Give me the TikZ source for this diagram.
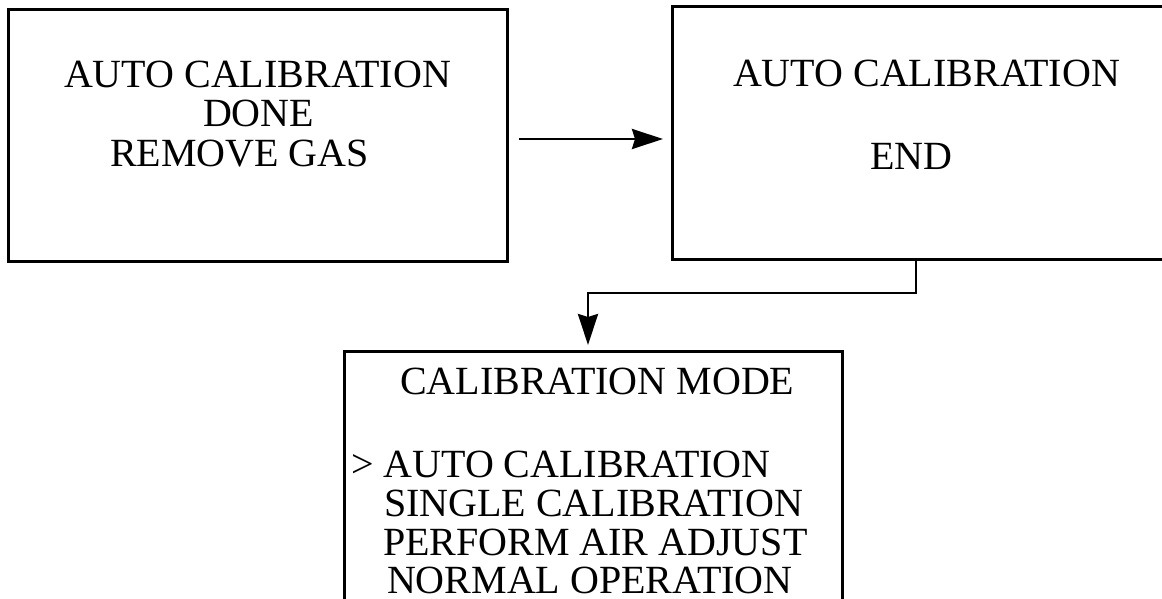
\documentclass[tikz,border=0pt]{standalone}
\usepackage{fontspec}
\setmainfont{Liberation Serif}
\usetikzlibrary{arrows.meta}
\begin{document}
\begin{tikzpicture}[x=1pt,y=-1pt,
  box/.style={draw, line width=3pt, rectangle, inner sep=0pt, outer sep=0pt, anchor=north west},
  txt/.style={inner sep=0pt, outer sep=0pt, anchor=base west, font=\fontsize{40}{40}\selectfont},
  arr/.style={line width=2.7pt, -{Stealth[length=31pt,width=20pt,inset=3pt]}}]
\useasboundingbox (0,0) rectangle (1162,599);
\fill[white] (0,0) rectangle (1162,599);
% boxes
\node[box, minimum width=499pt, minimum height=251pt] (b1) at (8,10) {};
\node[box, minimum width=508pt, minimum height=252pt] (b2) at (672,7) {};
\node[box, minimum width=498pt, minimum height=299pt] (b3) at (344,351) {};
% texts box 1
\node[txt] (t11) at (64,88) {AUTO CALIBRATION};
\node[txt] (t12) at (203,127) {DONE};
\node[txt] (t13) at (110,166) {REMOVE GAS};
% texts box 2
\node[txt] (t21) at (733,87) {AUTO CALIBRATION};
\node[txt] (t22) at (870,169) {END};
% texts box 3
\node[txt] (t31) at (400,394) {CALIBRATION MODE};
\node[txt] (t32) at (351,477) {> AUTO CALIBRATION};
\node[txt] (t33) at (384,516) {SINGLE CALIBRATION};
\node[txt] (t34) at (383,555) {PERFORM AIR ADJUST};
\node[txt] (t35) at (387,593) {NORMAL OPERATION};
% connectors
\draw[arr, shorten <=12pt, shorten >=9pt] ([yshift=-3.5pt]b1.east) -- ([yshift=-3.5pt]b1.east -| b2.west);
\draw[arr, shorten >=6pt] ([xshift=244pt]b2.south west) -- ++(0,34) -| ([xshift=244pt]b3.north west);
\end{tikzpicture}
\end{document}
